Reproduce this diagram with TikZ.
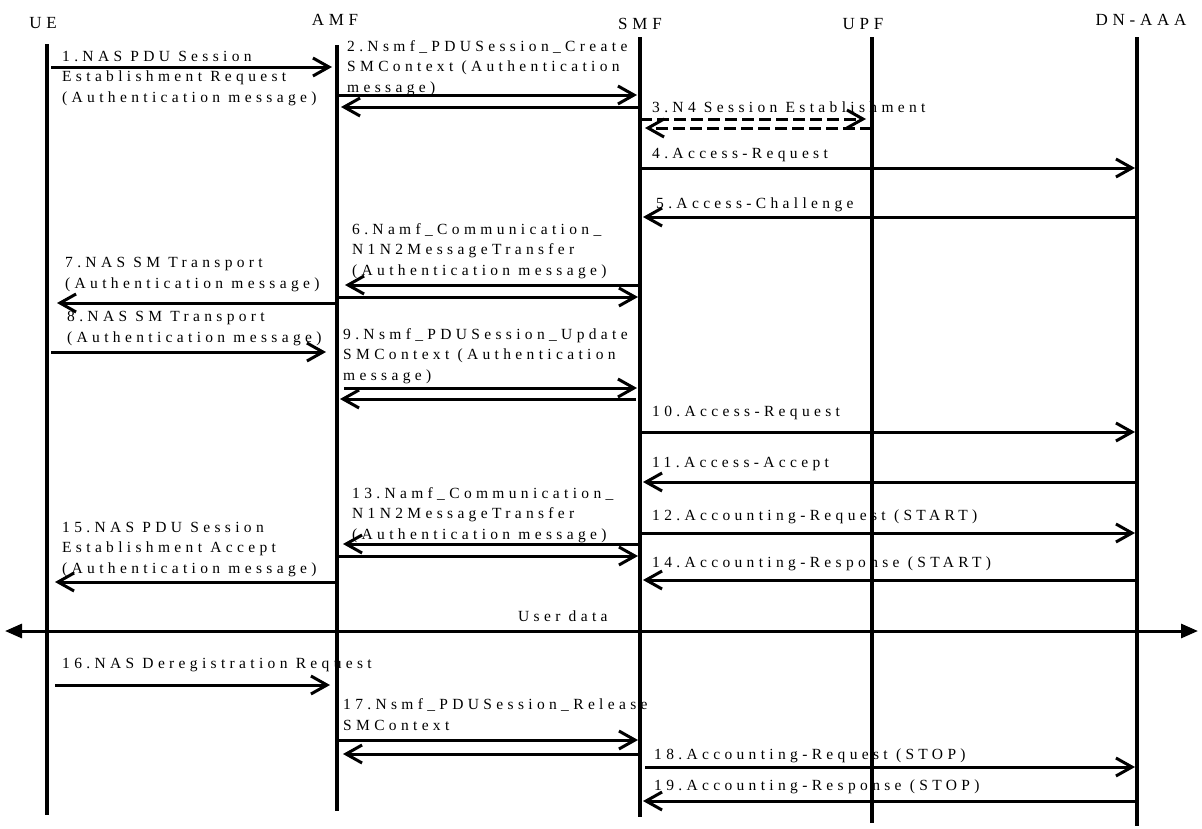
\documentclass[tikz,border=0pt]{standalone}
\usepackage{fontspec}
\setmainfont{Liberation Serif}[LetterSpace=28]
\usetikzlibrary{arrows.meta}

\tikzset{
  life/.style={line width=4.5pt},
  msg/.style={line width=3pt, -{Straight Barb[length=16pt,width=18pt,line width=3pt]}},
  rmsg/.style={msg, dash pattern=on 12pt off 5pt},
  % multi-line labels are placed by the baseline of their last line
  lbl/.style={inner sep=0pt, anchor=base west, align=left,
              font=\fontsize{15.5}{20.5}\selectfont},
  head/.style={inner sep=0pt, font=\fontsize{17}{19}\selectfont},
  data/.style={line width=3pt,
    {Triangle[length=17pt,width=14pt]}-{Triangle[length=17pt,width=14pt]}},
}

\begin{document}
\begin{tikzpicture}[x=1pt,y=-1pt]
\useasboundingbox (0,0) rectangle (1202,828);

% lifeline heads
\node[head] (ue-h)  at (43,23)   {UE};
\node[head] (amf-h) at (335,20)  {AMF};
\node[head] (smf-h) at (640,24)  {SMF};
\node[head] (upf-h) at (863,24)  {UPF};
\node[head] (aaa-h) at (1141,20) {DN-AAA};

% lifelines
\coordinate (ue)  at (47,44);   \coordinate (ue-b)  at (47,815);
\coordinate (amf) at (337,45);  \coordinate (amf-b) at (337,811);
\coordinate (smf) at (640,37);  \coordinate (smf-b) at (640,817);
\coordinate (upf) at (872,37);  \coordinate (upf-b) at (872,823);
\coordinate (aaa) at (1137,37); \coordinate (aaa-b) at (1137,826);
\draw[life] (ue) -- (ue-b);
\draw[life] (amf) -- (amf-b);
\draw[life] (smf) -- (smf-b);
\draw[life] (upf) -- (upf-b);
\draw[life] (aaa) -- (aaa-b);

% labels
\node[lbl] (l1) at (62,102) {1.NAS PDU Session\\Establishment Request\\(Authentication message)};
\node[lbl] (l2) at (347,92) {2.Nsmf\_PDUSession\_Create\\SMContext (Authentication\\message)};
\node[lbl] (l3) at (652,112) {3.N4 Session Establishment};
\node[lbl] (l4) at (652,158) {4.Access-Request};
\node[lbl] (l5) at (656,208) {5.Access-Challenge};
\node[lbl] (l6) at (352,275) {6.Namf\_Communication\_\\N1N2MessageTransfer\\(Authentication message)};
\node[lbl] (l7) at (65,288) {7.NAS SM Transport\\(Authentication message)};
\node[lbl] (l8) at (67,342) {8.NAS SM Transport\\(Authentication message)};
\node[lbl] (l9) at (343,380) {9.Nsmf\_PDUSession\_Update\\SMContext (Authentication\\message)};
\node[lbl] (l10) at (652,416) {10.Access-Request};
\node[lbl] (l11) at (652,467) {11.Access-Accept};
\node[lbl] (l12) at (652,520) {12.Accounting-Request (START)};
\node[lbl] (l13) at (352,539) {13.Namf\_Communication\_\\N1N2MessageTransfer\\(Authentication message)};
\node[lbl] (l14) at (652,567) {14.Accounting-Response (START)};
\node[lbl] (l15) at (62,573) {15.NAS PDU Session\\Establishment Accept\\(Authentication message)};
\node[lbl] (ud) at (518,621) {User data};
\node[lbl] (l16) at (62,668) {16.NAS Deregistration Request};
\node[lbl] (l17) at (343,730) {17.Nsmf\_PDUSession\_Release\\SMContext};
\node[lbl] (l18) at (654,759) {18.Accounting-Request (STOP)};
\node[lbl] (l19) at (654,790) {19.Accounting-Response (STOP)};

% messages
\draw[msg, shorten <=4pt, shorten >=5pt] (ue |- 0,67) -- (amf |- 0,67);
\draw[msg, shorten >=3pt] (amf |- 0,95) -- (smf |- 0,95);
\draw[msg, shorten >=4pt] (smf |- 0,107) -- (amf |- 0,107);
\draw[rmsg, shorten >=6pt] (smf |- 0,119) -- (upf |- 0,119);
\draw[rmsg, shorten >=5pt] (upf |- 0,128) -- (smf |- 0,128);
\draw[msg, shorten >=2pt] (smf |- 0,168) -- (aaa |- 0,168);
\draw[msg, shorten >=3pt] (aaa |- 0,217) -- (smf |- 0,217);
\draw[msg, shorten >=8pt] (smf |- 0,285) -- (amf |- 0,285);
\draw[msg, shorten >=2pt] (amf |- 0,297) -- (smf |- 0,297);
\draw[msg, shorten >=10pt] (amf |- 0,303) -- (ue |- 0,303);
\draw[msg, shorten <=4pt, shorten >=11pt] (ue |- 0,352) -- (amf |- 0,352);
\draw[msg, shorten <=7pt, shorten >=3pt] (amf |- 0,388) -- (smf |- 0,388);
\draw[msg, shorten <=4pt, shorten >=3pt] (smf |- 0,399) -- (amf |- 0,399);
\draw[msg, shorten >=2pt] (smf |- 0,432) -- (aaa |- 0,432);
\draw[msg, shorten >=3pt] (aaa |- 0,482) -- (smf |- 0,482);
\draw[msg, shorten >=2pt] (smf |- 0,533) -- (aaa |- 0,533);
\draw[msg, shorten >=6pt] (smf |- 0,544) -- (amf |- 0,544);
\draw[msg, shorten >=2pt] (amf |- 0,556) -- (smf |- 0,556);
\draw[msg, shorten >=3pt] (aaa |- 0,580) -- (smf |- 0,580);
\draw[msg, shorten >=8pt] (amf |- 0,582) -- (ue |- 0,582);
\coordinate (ud-l) at (5,631);
\coordinate (ud-r) at (1198,631);
\draw[data] (ud-l) -- (ud-r);
\draw[msg, shorten <=8pt, shorten >=7pt] (ue |- 0,685) -- (amf |- 0,685);
\draw[msg, shorten >=2pt] (amf |- 0,740) -- (smf |- 0,740);
\draw[msg, shorten >=6pt] (smf |- 0,754) -- (amf |- 0,754);
\draw[msg, shorten <=5pt, shorten >=2pt] (smf |- 0,767) -- (aaa |- 0,767);
\draw[msg, shorten >=3pt] (aaa |- 0,801) -- (smf |- 0,801);
\end{tikzpicture}
\end{document}
